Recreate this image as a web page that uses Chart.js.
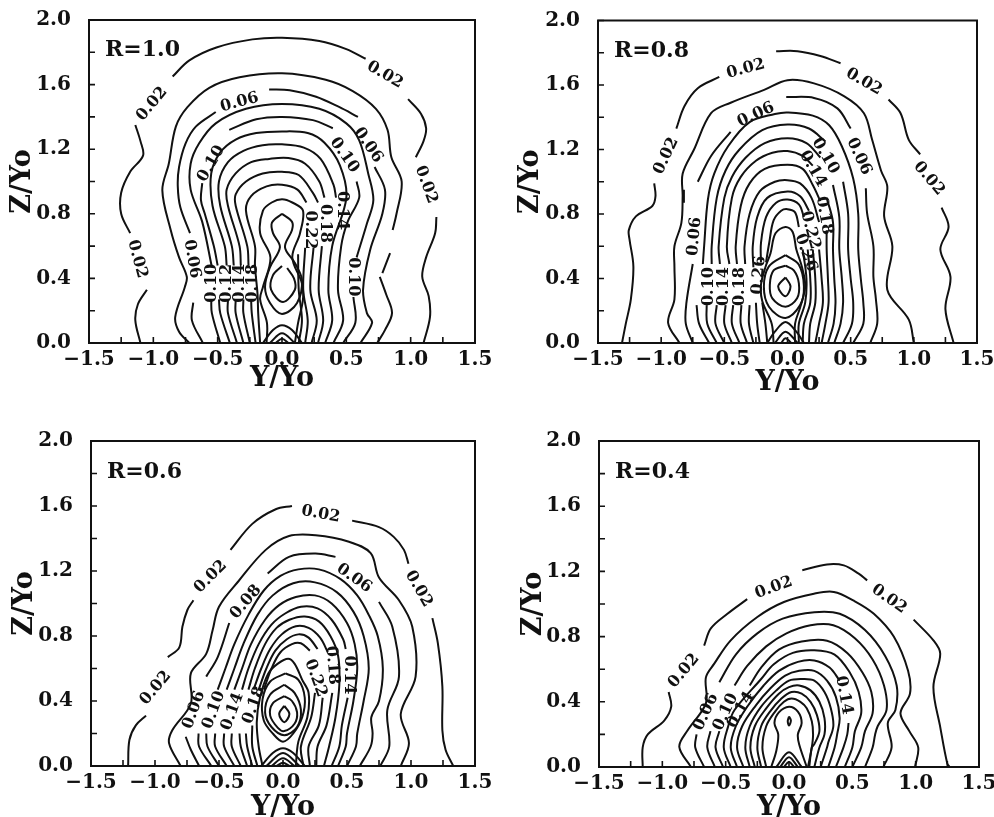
<!DOCTYPE html>
<html><head><meta charset="utf-8">
<script src="https://cdn.jsdelivr.net/npm/chart.js@4"></script>
<style>html,body{margin:0;padding:0;background:#fff;width:994px;height:817px;overflow:hidden}canvas{position:absolute}</style>
</head><body>
<canvas id="a"></canvas><canvas id="b"></canvas><canvas id="c"></canvas><canvas id="d"></canvas>
<script>
const xTickValues=[-1.5,-1.25,-1,-0.75,-0.5,-0.25,0,0.25,0.5,0.75,1,1.25,1.5];
const xTickLabelled=[-1.5,-1,-0.5,0,0.5,1,1.5];
const yTickValues=[0,0.2,0.4,0.6,0.8,1,1.2,1.4,1.6,1.8,2];
const yTickLabelled=[0,0.4,0.8,1.2,1.6,2];
const G=null;

/* R=1.0 : [Y/Yo, Z/Yo], G = gap for an inline label */
const r10_02=[[-1.10,0],[-1.14,.14],[-1.12,.24],[-1.05,.33],G,[-1.18,.68],[-1.25,.80],[-1.25,.93],[-1.18,1.06],[-1.08,1.16],[-1.10,1.25],[-1.14,1.35],G,[-.85,1.65],[-.72,1.75],[-.51,1.83],[-.23,1.88],[0,1.89],[.29,1.87],[.50,1.82],[.65,1.76],G,[.98,1.51],[1.08,1.42],[1.12,1.33],[1.10,1.25],[1.04,1.15],G,[1.20,.78],[1.19,.68],[1.12,.53],[1.09,.41],[1.14,.29],[1.15,.16],[1.10,0]];
const r10_04=[[-.72,0],[-.80,.07],[-.83,.16],[-.755,.347],[-.74,.41],[-.80,.53],[-.865,.70],[-.93,.945],[-.88,1.11],[-.825,1.34],[-.735,1.46],[-.565,1.58],[-.33,1.645],[0,1.67],[.34,1.63],[.55,1.56],[.73,1.45],[.82,1.32],[.85,1.15],[.93,1.0],[.89,.80],[.86,.70],G,[.84,.557],[.78,.433],G,[.76,.41],[.81,.30],[.855,.185],[.80,.08],[.74,0]];
const r10_06=[[-.615,0],[-.70,.14],[-.69,.25],G,[-.715,.68],[-.79,.84],[-.81,.97],[-.80,1.09],[-.75,1.235],[-.67,1.34],[-.515,1.43],G,[-.10,1.57],[.06,1.565],[.265,1.525],[.447,1.46],[.59,1.40],G,[.72,1.09],[.80,.95],[.78,.8],[.685,.576],[.63,.33],[.66,.185],[.70,.125],[.61,0]];
const r10_08=[[-.48,0],[-.545,.185],[-.55,.27],G,[-.545,.47],[-.62,.75],[-.71,.95],[-.71,1.11],[-.645,1.235],[-.515,1.36],[-.28,1.45],[0,1.48],[.29,1.45],[.5,1.36],[.60,1.255],[.67,1.05],[.71,.885],[.66,.74],[.58,.53],G,[.555,.285],[.57,.125],[.475,0]];
const r10_10=[[-.405,0],[-.48,.185],[-.49,.27],G,[-.50,.48],[-.53,.6],[-.60,.8],[-.63,.885],[-.62,.99],G,[-.41,1.32],[-.20,1.385],[0,1.40],[.24,1.38],[.395,1.33],G,[.58,1.0],[.60,.9],[.51,.75],[.46,.6],[.435,.33],[.475,.14],[.40,0]];
const r10_12=[[-.35,0],[-.42,.185],[-.42,.27],G,[-.43,.48],[-.445,.6],[-.54,.85],[-.55,1.05],[-.48,1.18],[-.36,1.26],[-.20,1.30],[0,1.31],[.2,1.30],[.33,1.24],[.45,1.1],[.50,.9],[.39,.6],[.36,.33],[.39,.14],[.335,0]];
const r10_14=[[-.30,0],[-.36,.185],[-.36,.27],G,[-.375,.48],[-.39,.6],[-.48,.85],[-.49,1.0],[-.42,1.12],[-.30,1.19],[-.15,1.225],[0,1.23],[.17,1.21],[.30,1.14],[.40,.98],[.42,.9],G,[.31,.6],[.285,.33],[.32,.14],[.28,0]];
const r10_16=[[-.25,0],[-.30,.185],[-.30,.27],G,[-.32,.48],[-.33,.6],[-.42,.85],[-.43,.95],[-.36,1.05],[-.24,1.12],[-.1,1.14],[.05,1.145],[.18,1.11],[.29,1.0],[.33,.9],G,[.245,.59],[.22,.33],[.27,.14],[.23,0]];
const r10_18=[[-.205,0],[-.235,.185],[-.24,.27],G,[-.26,.48],[-.27,.6],[-.36,.85],[-.36,.92],[-.28,1.0],[-.15,1.05],[0,1.06],[.13,1.04],[.24,.93],[.28,.87],G,[.18,.59],[.165,.33],[.20,.14],[.18,0]];
const r10_20=[[-.17,0],[-.185,.185],[-.19,.30],[-.21,.48],[-.21,.6],[-.28,.82],[-.24,.91],[-.12,.97],[0,.98],[.12,.95],[.19,.87],G,[.125,.55],[.13,.33],[.155,.14],[.13,0]];
const r10_22=[[-.12,0],[-.117,.125],[-.17,.27],[-.148,.347],[-.09,.53],[-.17,.68],[-.148,.82],[-.08,.87],[0,.89],[.08,.87],[.163,.82],[.14,.68],[.08,.53],[.155,.37],[.163,.27],[.125,.125],[.10,0]];
const r10_24=[[0,.80],[-.078,.745],[-.07,.68],[-.016,.594],[-.093,.47],[-.132,.347],[-.093,.248],[0,.18],[.117,.248],[.155,.39],[.10,.495],[.023,.594],[.078,.70],[.078,.75],[0,.80]];
const r10_26=[[0,.477],[-.07,.42],[-.085,.33],[.008,.254],[.10,.33],[.093,.40],[.04,.464]];
const r10_a1=[[-.148,0],[-.07,.08],[0,.11],[.078,.08],[.155,0]];
const r10_a2=[[-.095,0],[0,.06],[.10,0]];
const r10_a3=[[-.05,0],[0,.027],[.05,0]];
const r10_series=[r10_02,r10_04,r10_06,r10_08,r10_10,r10_12,r10_14,r10_16,r10_18,r10_20,r10_22,r10_24,r10_26,r10_a1,r10_a2,r10_a3];
const r10_labels=[["0.02",-1.01,1.48,-50],["0.02",.80,1.66,30],["0.02",1.12,.98,70],["0.02",-1.125,.52,75],["0.06",-.33,1.49,-15],["0.06",.67,1.225,55],["0.06",-.70,.52,80],["0.10",-.55,1.11,-60],["0.10",.485,1.163,55],["0.10",.55,.41,90],["0.10",-.545,.37,-90],["0.12",-.43,.37,-90],["0.14",-.33,.37,-90],["0.18",-.225,.37,-90],["0.22",.22,.70,90],["0.18",.335,.74,90],["0.14",.47,.82,90]];

/* R=0.8 */
const r08_02=[[-1.31,0],[-1.28,.12],[-1.24,.27],[-1.22,.475],[-1.25,.64],[-1.256,.70],[-1.20,.785],[-1.07,.85],[-1.045,.91],[-1.055,.99],G,[-.88,1.33],[-.815,1.47],[-.71,1.58],[-.54,1.65],G,[-.09,1.81],[.08,1.81],[.26,1.78],[.42,1.735],G,[.80,1.51],[.895,1.425],[.96,1.26],[1.05,1.17],G,[1.22,.84],[1.275,.72],[1.21,.58],[1.29,.41],[1.25,.21],[1.315,0]];
const r08_04=[[-.855,0],[-.945,.125],[-.895,.27],[-.895,.475],[-.895,.60],[-.84,.745],[-.83,.91],[-.83,1.05],[-.74,1.2],[-.605,1.425],[-.45,1.49],[-.185,1.57],[0,1.63],[.21,1.61],[.45,1.53],[.605,1.425],[.67,1.26],[.74,1.07],[.79,.97],[.765,.785],[.83,.60],[.79,.33],[.96,.145],[1.0,0]];
const r08_06=[[-.75,0],[-.805,.12],[-.80,.25],[-.75,.49],G,[-.82,.87],[-.82,.95],G,[-.71,1.0],[-.605,1.16],[-.45,1.31],G,[-.01,1.525],[.21,1.52],[.395,1.455],[.50,1.33],G,[.62,.96],[.63,.805],[.68,.6],[.68,.41],[.70,.27],[.71,.12],[.655,0]];
const r08_08=[[-.62,0],[-.70,.12],[-.72,.235],G,[-.67,.49],[-.66,.6],[-.63,.89],[-.58,1.05],[-.47,1.22],[-.30,1.37],[-.1,1.42],[0,1.43],[.2,1.41],[.33,1.35],[.43,1.22],[.52,1.02],[.56,.8],[.56,.58],[.58,.4],[.60,.25],[.60,.12],[.52,0]];
const r08_10=[[-.56,0],[-.635,.12],[-.64,.235],G,[-.60,.49],[-.60,.6],[-.56,.9],[-.49,1.07],[-.38,1.2],[-.2,1.32],[0,1.355],[.17,1.33],[.30,1.25],G,[.44,1.0],[.48,.8],[.48,.58],[.50,.4],[.52,.25],[.51,.12],[.44,0]];
const r08_12=[[-.50,0],[-.57,.12],[-.56,.235],G,[-.535,.49],[-.545,.6],[-.50,.9],[-.44,1.03],[-.33,1.15],[-.18,1.24],[0,1.27],[.15,1.24],[.26,1.15],G,[.36,.98],[.41,.78],[.41,.58],[.43,.4],[.44,.25],[.42,.12],[.37,0]];
const r08_14=[[-.44,0],[-.50,.12],[-.49,.235],G,[-.46,.49],[-.48,.6],[-.44,.9],[-.37,1.03],[-.25,1.13],[-.12,1.18],[0,1.19],[.12,1.16],[.20,1.1],G,[.31,.9],[.36,.75],[.36,.58],[.37,.4],[.38,.25],[.365,.12],[.32,0]];
const r08_16=[[-.38,0],[-.44,.12],[-.43,.235],G,[-.40,.49],[-.41,.6],[-.37,.85],[-.30,.99],[-.18,1.08],[0,1.105],[.12,1.08],[.20,.98],[.26,.88],G,[.31,.7],[.31,.58],[.32,.4],[.325,.25],[.30,.12],[.27,0]];
const r08_18=[[-.32,0],[-.37,.12],[-.365,.235],G,[-.335,.49],[-.34,.6],[-.30,.8],[-.22,.94],[-.10,1.0],[0,1.01],[.10,.99],[.19,.90],[.25,.75],G,[.25,.58],[.27,.4],[.28,.25],[.25,.12],[.22,0]];
const r08_20=[[-.27,0],[-.305,.12],[-.30,.235],G,[-.27,.47],[-.275,.6],[-.24,.78],[-.16,.90],[0,.94],[.10,.91],[.17,.82],G,[.20,.58],[.22,.4],[.22,.25],[.18,.12],[.17,0]];
const r08_22=[[-.22,0],[-.24,.12],[-.25,.25],G,[-.21,.5],[-.21,.62],[-.17,.78],[-.09,.87],[0,.89],[.09,.86],[.13,.78],G,[.16,.58],[.18,.4],[.18,.25],[.13,.12],[.12,0]];
const r08_24=[[-.16,0],[-.175,.12],[-.20,.25],G,[-.17,.5],[-.145,.62],[-.11,.76],[-.05,.82],[0,.83],[.06,.81],[.09,.72],G,[.12,.58],[.15,.4],[.14,.25],[.09,.12],[.09,0]];
const r08_26=[[-.11,0],[-.125,.12],[-.20,.26],[-.21,.36],[-.175,.47],[-.135,.555],[-.095,.68],[-.016,.72],[.04,.69],[.07,.58],[.115,.47],[.14,.35],[.10,.22],[.06,.12],[.06,0]];
const r08_L1=[[-.016,.545],[-.147,.475],[-.187,.35],[-.147,.225],[-.016,.155],[.10,.235],[.13,.35],[.09,.485],[-.016,.545]];
const r08_L2=[[-.016,.48],[-.11,.45],[-.14,.36],[-.12,.277],[-.016,.225],[.076,.277],[.09,.37],[.05,.45],[-.016,.48]];
const r08_L3=[[-.016,.407],[-.074,.35],[-.016,.29],[.024,.35],[-.016,.407]];
const r08_a1=[[-.16,0],[-.10,.07],[-.016,.13],[.07,.07],[.13,0]];
const r08_a2=[[-.10,0],[-.016,.07],[.08,0]];
const r08_a3=[[-.05,0],[-.016,.03],[.03,0]];
const r08_series=[r08_02,r08_04,r08_06,r08_08,r08_10,r08_12,r08_14,r08_16,r08_18,r08_20,r08_22,r08_24,r08_26,r08_L1,r08_L2,r08_L3,r08_a1,r08_a2,r08_a3];
const r08_labels=[["0.02",-.96,1.16,-65],["0.02",-.33,1.70,-15],["0.02",.605,1.62,30],["0.02",1.12,1.02,50],["0.06",-.25,1.415,-25],["0.06",.565,1.157,65],["0.06",-.735,.66,-85],["0.10",.30,1.16,60],["0.14",.2,1.08,60],["0.18",.29,.79,80],["0.22",.18,.70,75],["0.26",.145,.56,70],["0.10",-.62,.35,-90],["0.14",-.50,.35,-90],["0.18",-.38,.35,-90],["0.26",-.226,.42,-85]];

/* R=0.6 */
const r06_02=[[-1.21,0],[-1.20,.16],[-1.15,.25],[-1.07,.31],G,[-.90,.67],[-.81,.73],[-.786,.857],[-.747,.96],[-.70,1.02],G,[-.41,1.33],[-.24,1.49],[-.057,1.58],[.07,1.6],G,[.54,1.51],[.75,1.47],[.865,1.41],[.945,1.33],[.98,1.245],G,[1.167,.91],[1.21,.755],[1.245,.49],[1.245,.22],[1.27,.10],[1.33,0]];
const r06_04=[[-.80,0],[-.89,.14],[-.865,.22],[-.72,.385],[-.72,.57],[-.60,.69],[-.55,.835],[-.50,.98],[-.345,1.14],[-.135,1.33],[.047,1.415],[.255,1.42],[.515,1.38],[.685,1.31],[.75,1.16],[.906,1.02],[1.01,.857],[1.036,.55],[.92,.32],[.984,.14],[.92,0]];
const r06_06=[[-.655,0],[-.72,.1],[-.76,.18],G,[-.60,.55],[-.51,.67],[-.42,.88],G,[-.12,1.185],[.047,1.287],[.255,1.307],[.41,1.287],G,[.75,1.01],[.854,.857],[.906,.55],[.815,.344],[.83,.12],[.76,0]];
const r06_08=[[-.56,0],[-.656,.12],[-.66,.2],G,[-.51,.47],[-.45,.6],[-.38,.75],[-.27,.93],[-.15,1.08],[-.02,1.17],[.12,1.21],[.28,1.21],[.45,1.15],[.58,1.05],[.67,.93],[.74,.8],[.78,.6],[.75,.4],[.69,.3],[.70,.2],[.685,.12],[.60,0]];
const r06_10=[[-.50,0],[-.59,.12],[-.60,.2],G,[-.44,.47],[-.38,.6],[-.31,.75],[-.2,.93],[-.08,1.05],[.08,1.125],[.25,1.13],[.42,1.07],[.55,.95],[.63,.8],[.67,.6],[.63,.4],[.58,.2],[.57,.12],[.50,0]];
const r06_12=[[-.44,0],[-.53,.12],[-.53,.2],G,[-.38,.47],[-.32,.6],[-.25,.75],[-.14,.90],[-.03,.99],[.1,1.04],[.25,1.05],[.38,1.0],[.50,.88],[.56,.75],[.58,.6],[.55,.4],[.50,.2],[.49,.12],[.43,0]];
const r06_14=[[-.38,0],[-.46,.12],[-.46,.2],G,[-.32,.47],[-.27,.6],[-.19,.75],[-.09,.87],[.02,.94],[.14,.98],[.27,.97],[.38,.90],[.47,.78],[.49,.72],G,[.505,.42],[.46,.25],[.44,.12],[.38,0]];
const r06_16=[[-.33,0],[-.40,.12],[-.40,.2],G,[-.27,.47],[-.22,.6],[-.14,.75],[-.05,.85],[.05,.90],[.17,.92],[.28,.89],[.37,.80],[.43,.68],[.44,.5],[.41,.3],[.36,.12],[.32,0]];
const r06_18=[[-.28,0],[-.33,.12],[-.34,.2],G,[-.23,.47],[-.17,.6],[-.10,.72],[-.01,.81],[.1,.86],[.2,.85],[.29,.79],[.35,.70],G,[.385,.45],[.34,.25],[.27,.12],[.26,0]];
const r06_20=[[-.24,0],[-.28,.12],[-.29,.2],G,[-.19,.47],[-.13,.6],[-.06,.71],[.03,.78],[.12,.81],[.2,.79],[.27,.72],G,[.31,.42],[.28,.25],[.20,.12],[.21,0]];
const r06_22=[[-.20,0],[-.24,.12],[-.24,.25],G,[-.15,.47],[-.09,.6],[-.02,.70],[.07,.75],[.14,.755],[.21,.71],G,[.25,.45],[.22,.3],[.14,.12],[.16,0]];
const r06_24=[[-.16,0],[-.19,.12],[-.205,.27],[-.18,.42],[-.115,.57],[-.04,.63],[.04,.66],[.09,.63],[.15,.53],[.20,.45],[.19,.3],[.12,.15],[.10,0]];
const r06_L1=[[.02,.57],[-.10,.52],[-.16,.41],[-.15,.28],[-.08,.2],[0,.15],[.08,.2],[.15,.30],[.17,.42],[.12,.53],[.02,.57]];
const r06_L2=[[.01,.50],[-.10,.44],[-.14,.33],[-.09,.24],[.01,.19],[.11,.24],[.14,.345],[.09,.45],[.01,.50]];
const r06_L3=[[.01,.43],[-.08,.385],[-.10,.31],[-.04,.235],[.01,.215],[.09,.26],[.11,.33],[.07,.40],[.01,.43]];
const r06_L4=[[.01,.37],[-.03,.32],[.01,.27],[.05,.32],[.01,.37]];
const r06_a1=[[-.17,0],[-.08,.08],[0,.11],[.08,.08],[.17,0]];
const r06_a2=[[-.13,0],[0,.08],[.13,0]];
const r06_a3=[[-.09,0],[0,.047],[.09,0]];
const r06_a4=[[-.05,0],[0,.02],[.05,0]];
const r06_series=[r06_02,r06_04,r06_06,r06_08,r06_10,r06_12,r06_14,r06_16,r06_18,r06_20,r06_22,r06_24,r06_L1,r06_L2,r06_L3,r06_L4,r06_a1,r06_a2,r06_a3,r06_a4];
const r06_labels=[["0.02",-.995,.48,-50],["0.02",-.565,1.165,-45],["0.02",.295,1.55,10],["0.02",1.06,1.09,60],["0.08",-.29,1.01,-50],["0.06",.555,1.155,35],["0.06",-.695,.345,-70],["0.10",-.54,.345,-70],["0.14",-.395,.335,-70],["0.18",-.227,.375,-70],["0.18",.385,.62,85],["0.22",.255,.54,70],["0.14",.515,.56,90]];

/* R=0.4 */
const r04_02=[[-1.155,0],[-1.155,.12],[-1.115,.20],[-.985,.285],[-.93,.37],[-.95,.46],G,[-.67,.745],[-.617,.85],[-.486,.94],[-.33,1.03],G,[.105,1.207],[.30,1.243],[.433,1.237],[.55,1.186],[.617,1.145],G,[.984,.904],[1.14,.777],[1.194,.695],[1.14,.49],[1.194,.245],[1.25,.02],[1.27,0]];
const r04_04=[[-.774,0],[-.866,.123],[-.80,.225],[-.656,.39],[-.656,.55],[-.59,.634],[-.46,.777],[-.25,.92],[-.04,1.012],[.197,1.063],[.354,1.074],[.512,1.02],[.67,.94],[.827,.80],[.94,.59],[.955,.45],[.88,.33],[.95,.22],[1.02,.12],[.995,0]];
const r04_06=[[-.67,0],[-.74,.12],[-.73,.2],G,[-.55,.52],[-.42,.69],[-.25,.82],[-.05,.91],[.2,.95],[.4,.94],[.6,.84],[.76,.68],[.85,.5],[.84,.35],[.78,.27],[.81,.12],[.745,0]];
const r04_08=[[-.585,0],[-.645,.12],[-.62,.22],G,[-.43,.5],[-.33,.62],[-.18,.74],[-.02,.82],[.17,.87],[.35,.87],[.52,.79],[.66,.66],[.75,.5],[.77,.35],[.70,.25],[.68,.2],[.66,.12],[.60,0]];
const r04_10=[[-.52,0],[-.58,.12],[-.55,.22],G,[-.31,.5],[-.22,.61],[-.08,.72],[.1,.77],[.3,.775],[.46,.70],[.58,.58],[.65,.46],[.66,.33],[.60,.22],[.57,.12],[.50,0]];
const r04_12=[[-.46,0],[-.515,.12],[-.48,.25],[-.43,.35],[-.22,.54],[-.12,.63],[.03,.70],[.2,.716],[.36,.69],[.48,.58],[.55,.46],[.57,.33],[.52,.22],[.50,.12],[.44,0]];
const r04_14=[[-.41,0],[-.46,.12],[-.42,.25],[-.33,.37],[-.20,.50],[-.08,.59],[.07,.645],[.2,.654],[.32,.61],[.40,.53],G,[.47,.27],[.46,.2],[.43,.12],[.37,0]];
const r04_16=[[-.36,0],[-.41,.12],[-.37,.25],[-.26,.38],[-.15,.48],[-.03,.56],[.08,.59],[.2,.59],[.3,.53],[.37,.43],[.40,.30],[.38,.2],[.36,.12],[.31,0]];
const r04_18=[[-.31,0],[-.345,.12],[-.31,.25],[-.22,.37],[-.10,.47],[0,.53],[.1,.54],[.2,.53],[.28,.46],[.33,.36],[.35,.25],[.31,.15],[.30,.12],[.25,0]];
const r04_20=[[-.27,0],[-.305,.12],[-.27,.25],[-.18,.36],[-.08,.45],[0,.49],[.08,.50],[.17,.47],[.24,.40],[.28,.30],[.28,.2],[.24,.12],[.20,0]];
const r04_22=[[-.22,0],[-.25,.12],[-.22,.25],[-.15,.34],[-.06,.42],[.02,.46],[.10,.45],[.17,.40],[.22,.32],[.24,.22],[.2,.14],[.18,.12],[.16,0]];
const r04_24=[[-.18,0],[-.21,.12],[-.18,.25],[-.11,.34],[-.04,.40],[.02,.42],[.09,.40],[.14,.36],[.18,.28],[.19,.2],[.18,.12],[.15,0]];
const r04_26=[[-.14,0],[-.10,.1],[-.085,.2],[-.115,.27],[-.08,.335],[0,.37],[.07,.34],[.10,.27],[.07,.2],[.08,.14],[.14,0]];
const r04_L1=[[0,.31],[-.01,.28],[0,.255],[.015,.285],[0,.31]];
const r04_a1=[[-.10,0],[0,.09],[.10,0]];
const r04_a2=[[-.07,0],[0,.06],[.07,0]];
const r04_a3=[[-.04,0],[0,.03],[.04,0]];
const r04_series=[r04_02,r04_04,r04_06,r04_08,r04_10,r04_12,r04_14,r04_16,r04_18,r04_20,r04_22,r04_24,r04_26,r04_L1,r04_a1,r04_a2,r04_a3];
const r04_labels=[["0.02",-.83,.59,-50],["0.02",-.12,1.10,-20],["0.02",.79,1.03,35],["0.06",-.656,.337,-65],["0.10",-.50,.337,-65],["0.14",-.38,.35,-60],["0.14",.433,.44,80]];

const FONT='"DejaVu Serif"';
const minus=v=>(v<0?'\u2212':'')+Math.abs(v).toFixed(1);

const contourDecor={id:'contourDecor',afterDatasetsDraw(chart,_,o){
  const {ctx,chartArea:a,scales:{x,y}}=chart;
  ctx.save();ctx.strokeStyle='#111';ctx.lineWidth=2;
  ctx.strokeRect(a.left,a.top,a.width,a.height);
  ctx.lineWidth=1.6;ctx.beginPath();
  x.ticks.forEach(t=>{const p=x.getPixelForValue(t.value);ctx.moveTo(p,a.bottom);ctx.lineTo(p,a.bottom-6);});
  y.ticks.forEach(t=>{const p=y.getPixelForValue(t.value);ctx.moveTo(a.left,p);ctx.lineTo(a.left+6,p);});
  ctx.stroke();
  ctx.fillStyle='#111';ctx.textAlign='center';ctx.textBaseline='middle';
  ctx.font='bold 16px '+FONT;
  o.labels.forEach(([t,yv,zv,rot])=>{ctx.save();ctx.translate(x.getPixelForValue(yv),y.getPixelForValue(zv));ctx.rotate(rot*Math.PI/180);ctx.fillText(t,0,0);ctx.restore();});
  ctx.font='bold 22px '+FONT;ctx.textAlign='left';
  ctx.fillText(o.tag,x.getPixelForValue(-1.5)+16,y.getPixelForValue(1.81));
  ctx.restore();
}};

function build(id,tag,series,labels,b){
  const cv=document.getElementById(id);
  const cw=560, ch=470;
  cv.style.left=b.cx+'px';cv.style.top=b.cy+'px';
  cv.width=cw;cv.height=ch;
  const leftW=b.l-b.cx, topP=b.t-b.cy, rightP=b.cx+cw-b.r, axisH=b.ah, botP=b.cy+ch-b.b-axisH;
  new Chart(cv,{type:'scatter',
    data:{datasets:series.map(s=>({data:s.map(p=>p?{x:p[0],y:p[1]}:{x:null,y:null}),showLine:true,borderColor:'#111',borderWidth:2,pointRadius:0,tension:.35,spanGaps:false,fill:false}))},
    plugins:[contourDecor],
    options:{responsive:false,animation:false,events:[],
      layout:{autoPadding:false,padding:{left:0,top:topP,right:rightP,bottom:botP}},
      plugins:{legend:{display:false},tooltip:{enabled:false},contourDecor:{labels,tag}},
      scales:{
        x:{type:'linear',min:-1.5,max:1.5,afterBuildTicks:s=>{s.ticks=xTickValues.map(v=>({value:v}));},afterFit:s=>{s.height=axisH;},
          grid:{display:false,drawTicks:false},border:{display:false},
          ticks:{autoSkip:false,maxRotation:0,padding:5,color:'#111',font:{family:FONT,weight:'bold',size:20},callback:v=>xTickLabelled.includes(v)?minus(v):''},
          title:{display:true,text:'Y/Yo',color:'#111',font:{family:FONT,weight:'bold',size:27},padding:{top:0,bottom:0}}},
        y:{type:'linear',min:0,max:2,afterBuildTicks:s=>{s.ticks=yTickValues.map(v=>({value:v}));},afterFit:s=>{s.width=leftW;},
          grid:{display:false,drawTicks:false},border:{display:false},
          ticks:{autoSkip:false,padding:18,color:'#111',font:{family:FONT,weight:'bold',size:20},callback:v=>yTickLabelled.includes(v)?v.toFixed(1):''},
          title:{display:true,text:'Z/Yo',color:'#111',font:{family:FONT,weight:'bold',size:27},padding:{top:b.tp,bottom:0}}}
      }}});
}
build('a','R=1.0',r10_series,r10_labels,{cx:0,cy:-20,l:89,r:475,t:20,b:343,tp:7,ah:52});
build('b','R=0.8',r08_series,r08_labels,{cx:497,cy:-20,l:598,r:977,t:20.5,b:343,tp:18,ah:56});
build('c','R=0.6',r06_series,r06_labels,{cx:0,cy:410,l:91,r:475,t:441,b:766,tp:9,ah:58});
build('d','R=0.4',r04_series,r04_labels,{cx:497,cy:410,l:599,r:979,t:441,b:767,tp:21,ah:57});
</script></body></html>
